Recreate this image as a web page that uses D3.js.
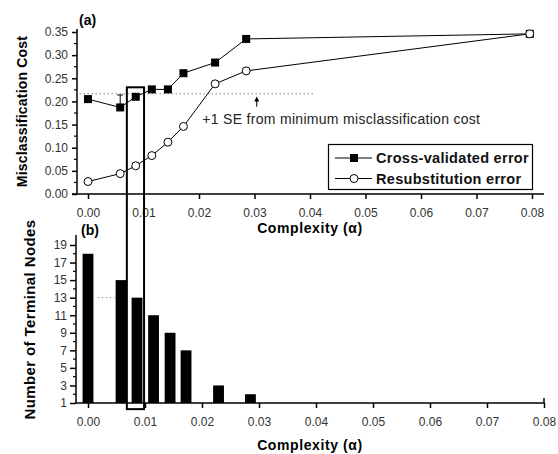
<!DOCTYPE html>
<html>
<head>
<meta charset="utf-8">
<script src="https://cdn.jsdelivr.net/npm/d3@7"></script>
<style>
  body { margin: 0; background: #fff; }
  svg { font-family: "Liberation Sans", Arial, sans-serif; }
  .tick text { fill: #333; font-size: 12px; }
</style>
</head>
<body>
<div id="chart"></div>
<script>
// Pruning sequence: complexity parameter for each subtree
const complexity = [0, 0.0058, 0.0086, 0.0115, 0.0144, 0.0172, 0.0229, 0.0285, 0.0796];
const crossValidated = [0.205, 0.187, 0.210, 0.226, 0.226, 0.261, 0.284, 0.335, 0.346];
const resubstitution = [0.027, 0.044, 0.061, 0.083, 0.112, 0.146, 0.238, 0.266, 0.346];
const terminalNodes = [18, 15, 13, 11, 9, 7, 3, 2, 1];

const costTicks = [0, 0.05, 0.10, 0.15, 0.20, 0.25, 0.30, 0.35];
const nodeTicks = [1, 3, 5, 7, 9, 11, 13, 15, 17, 19];
const complexityTicks = [0, 0.01, 0.02, 0.03, 0.04, 0.05, 0.06, 0.07, 0.08];

const seLine = 0.2165;     // minimum + 1 SE
const seUpper = 0.214;     // error bar top at the minimum
const chosenIndex = 2;     // selected tree (13 nodes)

const width = 558, height = 454;

const svg = d3.select("#chart").append("svg")
    .attr("width", width)
    .attr("height", height);

// ---------- panel (a) ----------
const xTop = d3.scaleLinear().domain([0, 0.08]).range([88, 532]);
const yTop = d3.scaleLinear().domain([0, 0.35]).range([194, 32]);

const gA = svg.append("g");

// axis lines
gA.append("line").attr("x1", 72).attr("x2", 544).attr("y1", yTop(0)).attr("y2", yTop(0))
    .attr("stroke", "#000").attr("stroke-width", 1.5);
gA.append("line").attr("x1", 77).attr("x2", 77).attr("y1", 29).attr("y2", yTop(0))
    .attr("stroke", "#000").attr("stroke-width", 1.5);

const xAxisTop = d3.axisBottom(xTop).tickValues(complexityTicks)
    .tickFormat(d3.format(".2f")).tickSize(5).tickPadding(9);
gA.append("g").attr("transform", `translate(0,${yTop(0)})`).call(xAxisTop)
    .call(g => g.select(".domain").remove())
    .call(g => g.selectAll(".tick line").attr("stroke-width", 1.5));

const yAxisTop = d3.axisLeft(yTop).tickValues(costTicks)
    .tickFormat(d3.format(".2f")).tickSize(5).tickPadding(4);
gA.append("g").attr("transform", "translate(77,0)").call(yAxisTop)
    .call(g => g.select(".domain").remove())
    .call(g => g.selectAll(".tick line").attr("stroke-width", 1.5));

// minor y ticks
gA.selectAll(".minor").data(costTicks.slice(0, -1).map(d => d + 0.025))
  .join("line")
    .attr("x1", 74).attr("x2", 77)
    .attr("y1", d => yTop(d)).attr("y2", d => yTop(d))
    .attr("stroke", "#000").attr("stroke-width", 1.2);

// dotted 1-SE line
gA.append("line")
    .attr("x1", xTop(-0.0015)).attr("x2", xTop(0.0405))
    .attr("y1", yTop(seLine)).attr("y2", yTop(seLine))
    .attr("stroke", "#555").attr("stroke-width", 1).attr("stroke-dasharray", "1,3");

// error bar at minimum
const minI = 1;
gA.append("line")
    .attr("x1", xTop(complexity[minI])).attr("x2", xTop(complexity[minI]))
    .attr("y1", yTop(seUpper)).attr("y2", yTop(crossValidated[minI]))
    .attr("stroke", "#000");
gA.append("line")
    .attr("x1", xTop(complexity[minI]) - 3).attr("x2", xTop(complexity[minI]) + 3)
    .attr("y1", yTop(seUpper)).attr("y2", yTop(seUpper))
    .attr("stroke", "#000");

const line = d3.line().x((d, i) => xTop(complexity[i])).y(d => yTop(d));

gA.append("path").datum(resubstitution).attr("d", line)
    .attr("fill", "none").attr("stroke", "#000").attr("stroke-width", 1);
gA.append("path").datum(crossValidated).attr("d", line)
    .attr("fill", "none").attr("stroke", "#000").attr("stroke-width", 1);

gA.selectAll(".sq").data(crossValidated).join("rect")
    .attr("x", (d, i) => xTop(complexity[i]) - 4)
    .attr("y", d => yTop(d) - 4)
    .attr("width", 8).attr("height", 8)
    .attr("fill", "#000");

gA.selectAll(".ci").data(resubstitution).join("circle")
    .attr("cx", (d, i) => xTop(complexity[i]))
    .attr("cy", d => yTop(d))
    .attr("r", 4)
    .attr("fill", "#fff").attr("stroke", "#000").attr("stroke-width", 1);

// annotation arrow and text
const arrowX = xTop(0.0304);
gA.append("line")
    .attr("x1", arrowX).attr("x2", arrowX)
    .attr("y1", yTop(0.1886)).attr("y2", yTop(0.207))
    .attr("stroke", "#000");
gA.append("path")
    .attr("d", `M${arrowX},${yTop(0.2105)} l-2.5,5 l5,0 z`)
    .attr("fill", "#000");
gA.append("text")
    .attr("x", xTop(0.0206)).attr("y", 124)
    .attr("font-size", 14).attr("letter-spacing", 0.3).attr("fill", "#222")
    .text("+1 SE from minimum misclassification cost");

// legend
const leg = gA.append("g");
leg.append("rect").attr("x", 328.5).attr("y", 144.5).attr("width", 204).attr("height", 45)
    .attr("fill", "#fff").attr("stroke", "#000").attr("stroke-width", 1.2);
const legendItems = [
  { label: "Cross-validated error", type: "square", y: 158 },
  { label: "Resubstitution error", type: "circle", y: 178.5 }
];
legendItems.forEach(it => {
  leg.append("line").attr("x1", 335).attr("x2", 372).attr("y1", it.y).attr("y2", it.y)
      .attr("stroke", "#000");
  if (it.type === "square") {
    leg.append("rect").attr("x", 350).attr("y", it.y - 4).attr("width", 8).attr("height", 8)
        .attr("fill", "#000");
  } else {
    leg.append("circle").attr("cx", 354).attr("cy", it.y).attr("r", 4)
        .attr("fill", "#fff").attr("stroke", "#000");
  }
  leg.append("text").attr("x", 376).attr("y", it.y + 5)
      .attr("font-size", 14.5).attr("font-weight", "bold").attr("letter-spacing", 0.3)
      .attr("fill", "#111")
      .text(it.label);
});

// titles
gA.append("text").attr("x", 79).attr("y", 25)
    .attr("font-size", 14).attr("font-weight", "bold").text("(a)");
gA.append("text")
    .attr("transform", `translate(27,${(29 + 194) / 2}) rotate(-90)`)
    .attr("text-anchor", "middle").attr("font-size", 14).attr("font-weight", "bold")
    .attr("letter-spacing", 0.2)
    .text("Misclassification Cost");
gA.append("text").attr("x", 310).attr("y", 233)
    .attr("text-anchor", "middle").attr("font-size", 14).attr("font-weight", "bold")
    .attr("letter-spacing", 0.6)
    .text("Complexity (α)");

// ---------- panel (b) ----------
const xBot = d3.scaleLinear().domain([0, 0.08]).range([88, 544]);
const yBot = d3.scaleLinear().domain([1, 19]).range([403, 245]);

const gB = svg.append("g");

gB.append("line").attr("x1", 76).attr("x2", 544).attr("y1", yBot(1)).attr("y2", yBot(1))
    .attr("stroke", "#000").attr("stroke-width", 1.5);
gB.append("line").attr("x1", 76).attr("x2", 76).attr("y1", 235).attr("y2", yBot(1))
    .attr("stroke", "#000").attr("stroke-width", 1.5);
gB.append("line").attr("x1", 544).attr("x2", 544).attr("y1", yBot(1)).attr("y2", yBot(1) - 5)
    .attr("stroke", "#000").attr("stroke-width", 1.5);

const xAxisBot = d3.axisBottom(xBot).tickValues(complexityTicks)
    .tickFormat(d3.format(".2f")).tickSize(5).tickPadding(9);
gB.append("g").attr("transform", `translate(0,${yBot(1)})`).call(xAxisBot)
    .call(g => g.select(".domain").remove())
    .call(g => g.selectAll(".tick line").attr("stroke-width", 1.5));

const yAxisBot = d3.axisLeft(yBot).tickValues(nodeTicks)
    .tickFormat(d3.format("d")).tickSize(6).tickPadding(3);
gB.append("g").attr("transform", "translate(76,0)").call(yAxisBot)
    .call(g => g.select(".domain").remove())
    .call(g => g.selectAll(".tick line").attr("stroke-width", 1.5));

gB.selectAll(".minor").data(nodeTicks.slice(0, -1).map(d => d + 1))
  .join("line")
    .attr("x1", 73).attr("x2", 76)
    .attr("y1", d => yBot(d)).attr("y2", d => yBot(d))
    .attr("stroke", "#000").attr("stroke-width", 1.2);

// dotted line at selected tree size
gB.append("line")
    .attr("x1", xBot(0.0018)).attr("x2", xBot(0.0047))
    .attr("y1", yBot(terminalNodes[chosenIndex])).attr("y2", yBot(terminalNodes[chosenIndex]))
    .attr("stroke", "#555").attr("stroke-dasharray", "1,3");

const barW = xBot(0.0019) - xBot(0);
gB.selectAll(".bar").data(terminalNodes).join("rect")
    .attr("x", (d, i) => xBot(complexity[i]) - barW / 2)
    .attr("y", d => yBot(d))
    .attr("width", barW)
    .attr("height", d => yBot(1) - yBot(d))
    .attr("fill", "#000");

gB.append("text").attr("x", 81).attr("y", 235)
    .attr("font-size", 14).attr("font-weight", "bold").text("(b)");
gB.append("text")
    .attr("transform", `translate(35,${(222 + 417) / 2}) rotate(-90)`)
    .attr("text-anchor", "middle").attr("font-size", 15).attr("font-weight", "bold")
    .attr("letter-spacing", 0.4)
    .text("Number of Terminal Nodes");
gB.append("text").attr("x", 310).attr("y", 450)
    .attr("text-anchor", "middle").attr("font-size", 14).attr("font-weight", "bold")
    .attr("letter-spacing", 0.6)
    .text("Complexity (α)");

// selection box spanning both panels
svg.append("rect")
    .attr("x", xTop(0.0070))
    .attr("y", yTop(0.2305))
    .attr("width", xTop(0.0101) - xTop(0.0070))
    .attr("height", yBot(0.3) - yTop(0.2305))
    .attr("fill", "none").attr("stroke", "#000").attr("stroke-width", 2);
</script>
</body>
</html>
